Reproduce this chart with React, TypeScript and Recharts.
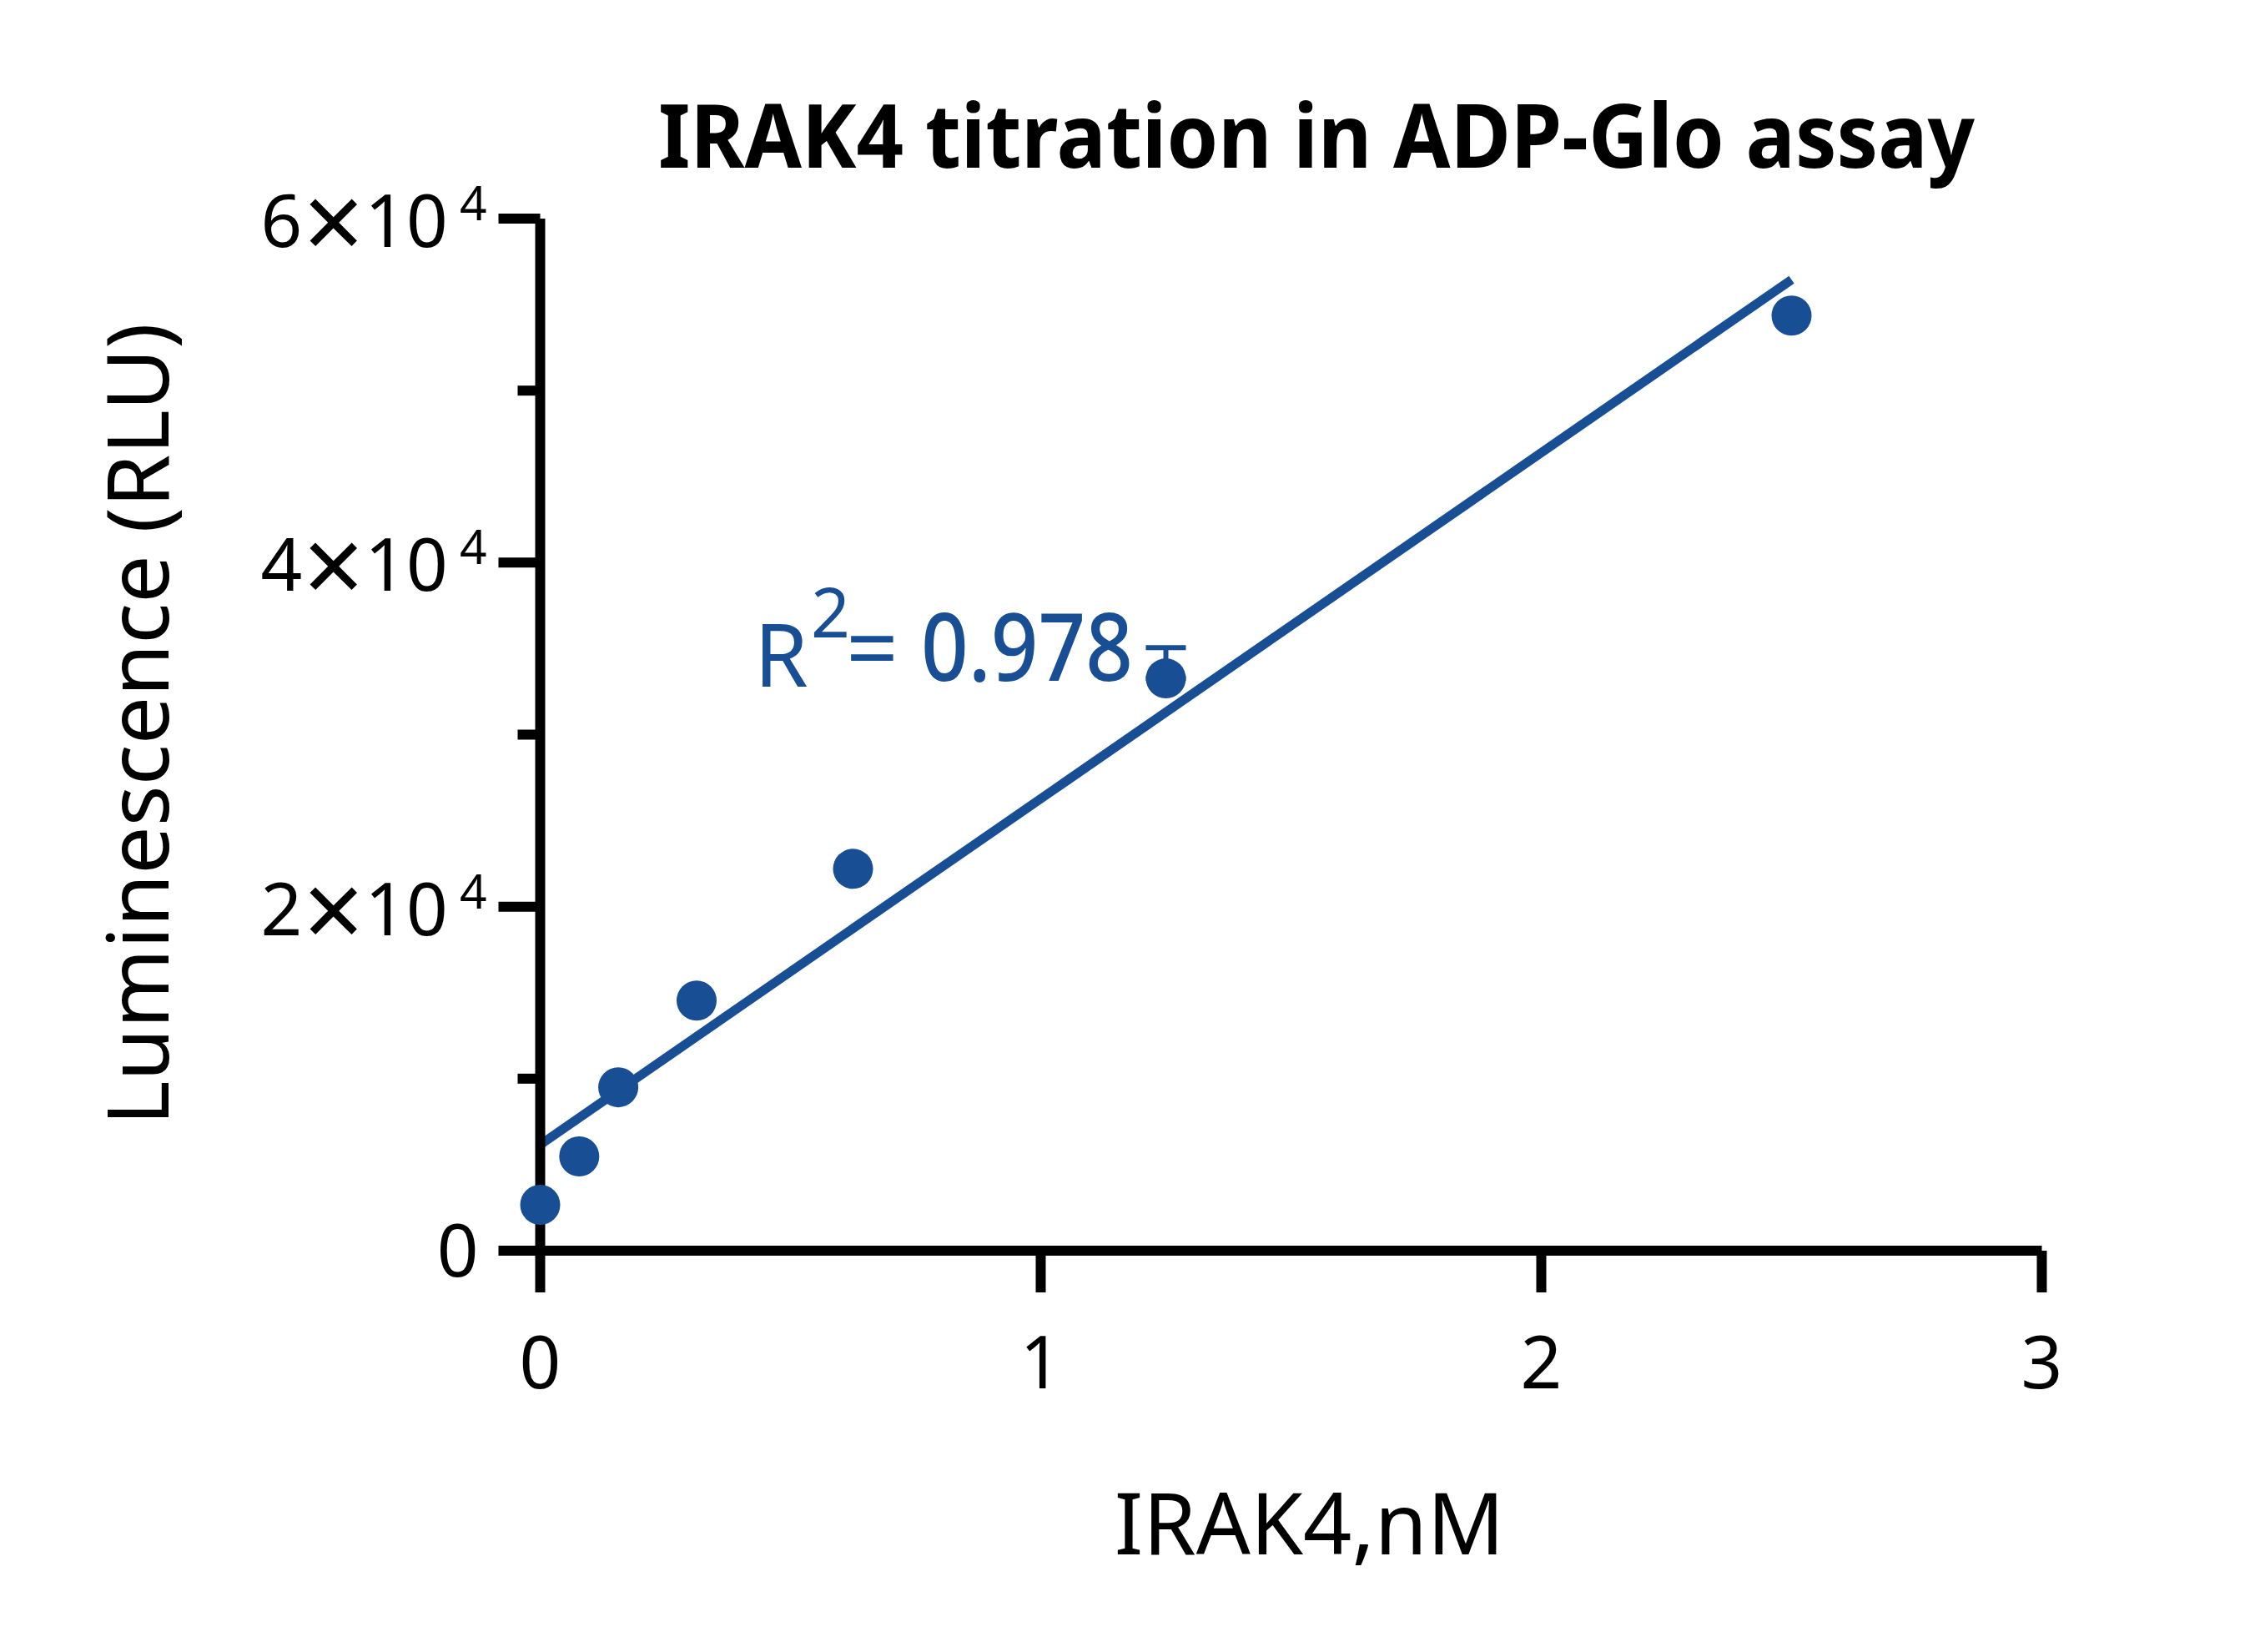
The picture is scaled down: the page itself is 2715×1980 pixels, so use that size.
import { ComposedChart, Scatter, Line, XAxis, YAxis, ErrorBar, Label } from "recharts";

const concentrations = [0, 0.078, 0.156, 0.3125, 0.625, 1.25, 2.5];
const luminescence = [2670, 5480, 9500, 14540, 22200, 33270, 54360];
const upperError = [0, 0, 0, 0, 0, 1790, 0];
const fitX = [0, 2.5];
const fitY = [6160, 56450];
const xTicks = [0, 1, 2, 3];
const yTicks = [0, 10000, 20000, 30000, 40000, 50000, 60000];

const points = concentrations.map((x, i) => ({
  x,
  y: luminescence[i],
  err: upperError[i] ? [0, upperError[i]] : undefined,
}));
const fitLine = fitX.map((x, i) => ({ x, fit: fitY[i] }));

const BLUE = "#184e94";
const FONT = "'Noto Sans', sans-serif";
const TICK_SIZE = 50;
const TICK_MARGIN = 14;

function YTick(props: any) {
  const { x, y, payload } = props;
  const v = payload.value as number;
  const axisX = x + TICK_MARGIN + TICK_SIZE;
  const major = v % 20000 === 0;
  const len = major ? TICK_SIZE : 27;
  return (
    <g>
      <line x1={axisX - len} x2={axisX} y1={y} y2={y} stroke="#000" strokeWidth={12} />
      {major && v === 0 && (
        <text x={x - 10} y={y + 31} textAnchor="end" fontSize={87} fontFamily={FONT} fill="#000">
          0
        </text>
      )}
      {major && v !== 0 && (
        <text x={x} y={y + 34} textAnchor="end" fontSize={87} fontFamily={FONT} fill="#000">
          {`${v / 10000}`}
          <tspan dx={1} dy={16} fontSize={128}>
            ×
          </tspan>
          <tspan dx={1} dy={-16}>
            10
          </tspan>
          <tspan dx={14} dy={-32} fontSize={57}>
            4
          </tspan>
        </text>
      )}
    </g>
  );
}

function Dot(props: any) {
  return <circle cx={props.cx} cy={props.cy} r={24} fill={BLUE} />;
}

export default function App() {
  return (
    <div style={{ position: "absolute", left: 0, top: 0, width: 2715, height: 1980, background: "#fff" }}>
      <ComposedChart
        width={2715}
        height={1980}
        margin={{ top: 262, right: 267.5, bottom: 181, left: 247.5 }}
      >
        <XAxis
          type="number"
          dataKey="x"
          domain={[0, 3]}
          ticks={xTicks}
          interval={0}
          height={300}
          tickSize={TICK_SIZE}
          tickMargin={53}
          axisLine={{ stroke: "#000", strokeWidth: 12 }}
          tickLine={{ stroke: "#000", strokeWidth: 12 }}
          tick={{ fill: "#000", fontSize: 87, fontFamily: FONT }}
          allowDuplicatedCategory={false}
        >
          <Label
            content={(p: any) => (
              <text
                x={p.viewBox.x + p.viewBox.width / 2 + 22}
                y={1863}
                textAnchor="middle"
                fontSize={102}
                fontFamily={FONT}
                fill="#000"
              >
                IRAK4,nM
              </text>
            )}
          />
        </XAxis>
        <YAxis
          type="number"
          domain={[0, 60000]}
          ticks={yTicks}
          interval={0}
          width={400}
          tickSize={TICK_SIZE}
          tickMargin={TICK_MARGIN}
          axisLine={{ stroke: "#000", strokeWidth: 12 }}
          tickLine={false}
          tick={(p: any) => <YTick {...p} />}
        >
          <Label
            content={() => (
              <text
                x={202}
                y={868}
                transform="rotate(-90 202 868)"
                textAnchor="middle"
                fontSize={102}
                fontFamily={FONT}
                fill="#000"
              >
                Luminescence (RLU)
              </text>
            )}
          />
        </YAxis>
        <Line
          data={fitLine}
          dataKey="fit"
          type="linear"
          stroke={BLUE}
          strokeWidth={11}
          style={{ strokeWidth: 11 }}
          dot={false}
          activeDot={false}
          isAnimationActive={false}
        />
        <Scatter data={points} dataKey="y" shape={Dot} isAnimationActive={false}>
          <ErrorBar dataKey="err" direction="y" width={24} strokeWidth={6} stroke={BLUE} />
        </Scatter>
      </ComposedChart>
      <svg
        width={2715}
        height={1980}
        style={{ position: "absolute", left: 0, top: 0, pointerEvents: "none" }}
      >
        <text
          x={1578}
          y={201}
          textAnchor="middle"
          fontSize={105}
          fontWeight={700}
          fontFamily={FONT}
          fill="#000"
          textLength={1578}
          lengthAdjust="spacingAndGlyphs"
        >
          IRAK4 titration in ADP-Glo assay
        </text>
        <text x={904} y={823} fontSize={104} fontFamily={FONT} fill={BLUE}>
          R
        </text>
        <text x={972} y={764} fontSize={82} fontFamily={FONT} fill={BLUE}>
          2
        </text>
        <text x={1014} y={816} fontSize={110} fontFamily={FONT} fill={BLUE}>
          =
        </text>
        <text
          x={1104}
          y={816}
          fontSize={112}
          fontWeight={500}
          fontFamily={FONT}
          fill={BLUE}
          textLength={254}
          lengthAdjust="spacingAndGlyphs"
        >
          0.978
        </text>
      </svg>
    </div>
  );
}
